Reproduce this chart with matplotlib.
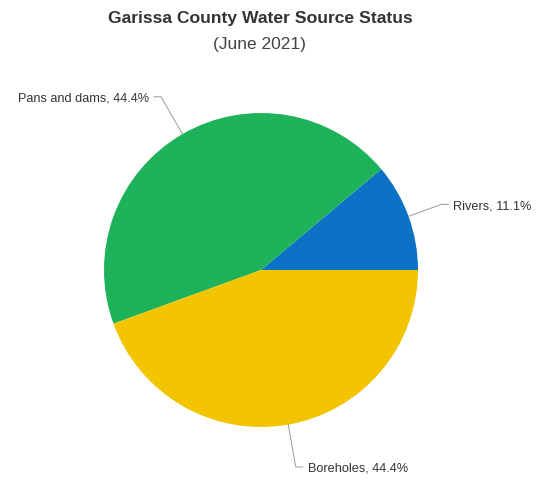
import numpy as np
import matplotlib
matplotlib.use("Agg")
import matplotlib.pyplot as plt

categories = ["Rivers", "Pans and dams", "Boreholes"]
values = [11.1, 44.4, 44.4]
colors = ["#0b72c5", "#1eb35a", "#f2c500"]
title = "Garissa County Water Source Status"
subtitle = "(June 2021)"

W, H = 541, 481
fig = plt.figure(figsize=(W / 100, H / 100), dpi=100)
ax = fig.add_axes([0, 0, 1, 1])

cx, cy, r = 261, H - 271, 157
wedges, _ = ax.pie(values, colors=colors, startangle=0, counterclock=True,
                   center=(cx, cy), radius=r, frame=True,
                   wedgeprops=dict(linewidth=0))
ax.set_xlim(0, W)
ax.set_ylim(0, H)
ax.set_aspect("equal")
ax.axis("off")

font = "Liberation Sans"
ext = 40
for w, cat, v in zip(wedges, categories, values):
    ang = np.deg2rad((w.theta1 + w.theta2) / 2)
    e = ext - 5 if abs(np.sin(ang)) < 0.5 else ext + 3
    x0, y0 = cx + r * np.cos(ang), cy + r * np.sin(ang)
    x1, y1 = cx + (r + e) * np.cos(ang), cy + (r + e) * np.sin(ang)
    side = 1 if np.cos(ang) >= 0 else -1
    x2 = x1 + side * 7
    ax.plot([x0, x1, x2], [y0, y1, y1], color="#9a9a9a", lw=0.7,
            solid_joinstyle="miter")
    ax.text(x2 + side * 5, y1 - 1, f"{cat}, {v}%", ha="left" if side > 0 else "right",
            va="center", fontsize=9.2, color="#333333", family=font)

fig.text(260 / W, 1 - 18 / H, title, ha="center", va="center", fontsize=12.6,
         fontweight="bold", color="#333333", family=font)
fig.text(259 / W, 1 - 44 / H, subtitle, ha="center", va="center", fontsize=12.5,
         color="#444444", family=font)

fig.savefig("out.png", dpi=100, facecolor="white")
